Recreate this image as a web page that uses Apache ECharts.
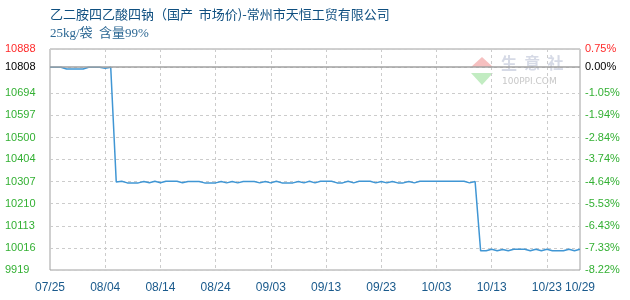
<!DOCTYPE html>
<html><head><meta charset="utf-8">
<script src="https://cdn.jsdelivr.net/npm/echarts@6/dist/echarts.min.js"></script>
<style>html,body{margin:0;padding:0;background:#fff}#c{width:630px;height:300px}</style>
</head><body><div id="c"></div>
<script>
// ---- data ----
const titleText = '乙二胺四乙酸四钠（国产  市场价)-常州市天恒工贸有限公司';
const subTitleText = '25kg/袋  含量99%';
const startDate = [2024, 7, 25];
const dayCount = 97; // 07/25 .. 10/29
const prices = [
  10808,10808,10808,10800,10800,10800,10800,10808,10808,10808,
  10803,10808,10305,10308,10301,10301,10301,10307,10302,10308,
  10302,10308,10308,10308,10302,10307,10307,10307,10301,10301,
  10301,10307,10301,10307,10301,10307,10307,10307,10301,10307,
  10301,10308,10301,10301,10301,10307,10301,10308,10301,10308,
  10308,10308,10301,10301,10308,10301,10308,10308,10308,10301,
  10307,10301,10307,10301,10301,10307,10301,10308,10308,10308,
  10308,10308,10308,10308,10308,10308,10301,10307,10003,10003,
  10010,10003,10009,10003,10010,10010,10010,10003,10010,10003,
  10010,10003,10003,10003,10010,10003,10010
];
const baseValue = 10808;
const yMin = 9919;
const yMax = 10888;
const leftTickValues = [9919,10016,10113,10210,10307,10404,10500,10597,10694,10808,10888];
const rightTickLabels = ['-8.22%','-7.33%','-6.43%','-5.53%','-4.64%','-3.74%','-2.84%','-1.94%','-1.05%','0.00%','0.75%'];
const xLabelStep = 10;

// ---- build categories ----
const categories = [];
{
  const d0 = new Date(Date.UTC(startDate[0], startDate[1]-1, startDate[2]));
  for (let i = 0; i < dayCount; i++) {
    const d = new Date(d0.getTime() + i*86400000);
    const mm = String(d.getUTCMonth()+1).padStart(2,'0');
    const dd = String(d.getUTCDate()).padStart(2,'0');
    categories.push(mm + '/' + dd);
  }
}

const labelColor = v => v === yMax ? '#ff2a2a' : (v === baseValue ? '#000000' : '#33b033');
const xShown = i => i % xLabelStep === 0 || i === dayCount - 1;

const chart = echarts.init(document.getElementById('c'), null, {renderer: 'canvas'});
chart.setOption({
  animation: false,
  backgroundColor: '#fff',
  textStyle: {fontFamily: '"Liberation Sans", Arial, sans-serif'},
  title: {
    text: titleText,
    subtext: subTitleText,
    left: 50, top: 8, padding: 0, itemGap: 6,
    textStyle: {fontSize: 13, fontWeight: 'normal', color: '#0f4f80', fontFamily: '"Noto Sans CJK SC", sans-serif'},
    subtextStyle: {fontSize: 13, color: '#2d6894', fontFamily: '"Liberation Serif", "Noto Sans CJK SC", serif'}
  },
  grid: {left: 50, right: 50, top: 49, bottom: 30, show: true, borderColor: '#a0a0a0', borderWidth: 1, backgroundColor: 'transparent'},
  xAxis: {
    type: 'category', data: categories, boundaryGap: false,
    axisLine: {show: false}, axisTick: {show: false},
    axisLabel: {interval: (i) => xShown(i), color: '#1a5a8c', fontSize: 12, margin: 12},
    splitLine: {show: true, interval: (i) => i % xLabelStep === 0 && i !== 0, lineStyle: {color: '#cccccc', type: [3, 3], width: 1}}
  },
  yAxis: [{
    type: 'value', min: yMin, max: yMax, position: 'left',
    axisLine: {show: false},
    axisTick: {show: false, customValues: leftTickValues},
    axisLabel: {customValues: leftTickValues, align: 'left', margin: 45, fontSize: 11,
      formatter: v => String(v), color: (v) => labelColor(Number(v))},
    splitLine: {show: true, lineStyle: {color: '#cccccc', type: [3, 3], width: 1}}
  }, {
    type: 'value', min: yMin, max: yMax, position: 'right',
    axisLine: {show: false},
    axisTick: {show: false, customValues: leftTickValues},
    axisLabel: {customValues: leftTickValues, align: 'left', margin: 5, fontSize: 11,
      formatter: v => rightTickLabels[leftTickValues.indexOf(Number(v))] || '',
      color: (v) => labelColor(Number(v))},
    splitLine: {show: false}
  }],
  graphic: [
    {type: 'polygon', shape: {points: [[482, 57], [471, 67], [493, 67]]}, style: {fill: '#f6c0c0'}, silent: true},
    {type: 'polygon', shape: {points: [[471, 73], [493, 73], [482, 85]]}, style: {fill: '#c2ecc2'}, silent: true},
    {type: 'text', left: 501, top: 55, style: {text: '生  意  社', fontSize: 16, fontWeight: 'bold', fill: '#d6dae6', fontFamily: '"Noto Sans CJK SC", sans-serif'}, silent: true},
    {type: 'text', left: 502, top: 77, style: {text: '100PPI.COM', fontSize: 9, fill: '#c8c8c8', fontFamily: '"DejaVu Sans", sans-serif'}, silent: true}
  ],
  series: [{
    type: 'line', data: prices, yAxisIndex: 0, symbol: 'none', smooth: false,
    lineStyle: {color: '#4096d4', width: 1.5},
    markLine: {
      silent: true, symbol: 'none', label: {show: false},
      lineStyle: {color: '#a0a0a0', type: 'solid', width: 1.5},
      data: [{yAxis: baseValue}]
    },
    z: 3
  }]
});
</script>
</body></html>
